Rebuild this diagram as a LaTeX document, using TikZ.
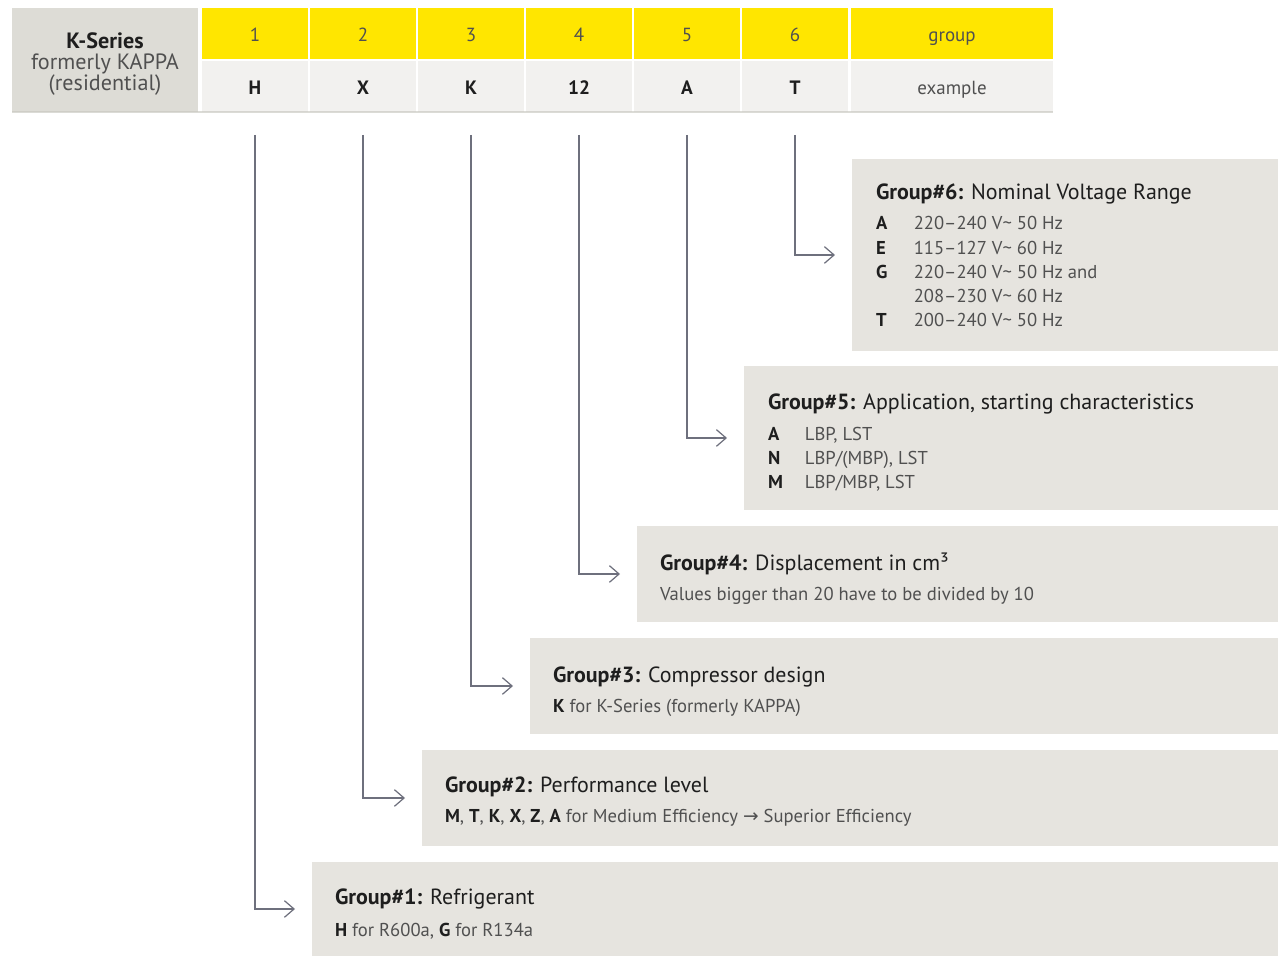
\documentclass[tikz,border=0pt]{standalone}
\usepackage{fontspec}
\setmainfont{PT Sans}
\newfontfamily\arrowfont{DejaVu Sans}
\usepackage{tikz}
\usetikzlibrary{arrows.meta, positioning, calc}
\definecolor{kyellow}{RGB}{255, 230, 0}
\definecolor{kcell}{RGB}{242, 241, 239}
\definecolor{kseries}{RGB}{221, 220, 214}
\definecolor{kbox}{RGB}{230, 228, 223}
\definecolor{krule}{RGB}{200, 199, 192}
\definecolor{kline}{RGB}{110, 112, 125}
\definecolor{kdark}{RGB}{30, 30, 30}
\definecolor{kgrey}{RGB}{80, 80, 80}
\newcommand{\kb}[1]{\textcolor{kdark}{\textbf{#1}}}
\newcommand{\volt}{V\textasciitilde\ }

\begin{document}
\begin{tikzpicture}[
    x = 0.02cm, y = -0.02cm,
    every node/.style = {inner sep=0pt, outer sep=0pt},
    cellbase/.style = {minimum width=2.12cm, minimum height=1.02cm,
                       text height=9.6pt, text depth=1pt,
                       font=\fontsize{10.8}{12}\selectfont},
    numcell/.style = {cellbase, fill=kyellow, text=kgrey},
    codecell/.style = {cellbase, fill=kcell, text=kdark,
                       font=\fontsize{11}{12}\selectfont\bfseries},
    infobox/.style = {fill=kbox, anchor=north west, minimum height=1.92cm},
    title/.style = {anchor=base west, text=kdark,
                    font=\fontsize{12.5}{14}\selectfont},
    body/.style = {anchor=base west, text=kgrey,
                   font=\fontsize{10.6}{13.8}\selectfont},
    link/.style = {draw=kline, line width=0.7pt, shorten >=0.34cm,
                   -{Straight Barb[length=5.5pt, width=9.5pt]}}
]
  % background / bounding box
  \useasboundingbox (0,0) rectangle (1278,956);

  % header table
  \node[fill=kseries, minimum width=3.72cm, minimum height=2.08cm] (series) at (105,60) {};
  \node[align=center, text=kgrey, font=\fontsize{12.6}{12.2}\selectfont] (serieslabel) at (105,64)
    {\kb{K-Series}\\formerly KAPPA\\(residential)};
  \foreach \i/\cx/\code in {1/255/H, 2/363/X, 3/471/K, 4/579/12, 5/687/A, 6/795/T} {
    \node[numcell] (num\i) at (\cx,33.5) {\i};
    \node[codecell] (code\i) at (\cx,86.5) {\code};
  }
  \node[numcell, minimum width=4.04cm] (numg) at (952,33.5) {group};
  \node[cellbase, fill=kcell, minimum width=4.04cm, text=kgrey] (codeg) at (952,86.5) {example};
  \draw[krule, line width=0.8pt] (series.south west) -- (codeg.south east);

  % group boxes
  \node[infobox, minimum width=8.52cm, minimum height=3.84cm] (g6) at (852,159) {};
  \node[infobox, minimum width=10.68cm, minimum height=2.88cm] (g5) at (744,366) {};
  \node[infobox, minimum width=12.82cm] (g4) at (637,526) {};
  \node[infobox, minimum width=14.96cm] (g3) at (530,638) {};
  \node[infobox, minimum width=17.12cm] (g2) at (422,750) {};
  \node[infobox, minimum width=19.32cm, minimum height=1.88cm] (g1) at (312,862) {};

  % group texts
  \node[title] (t6) at (876,200) {\textbf{Group\#6:} Nominal Voltage Range};
  \node[body] (b6) at (876,230) {\begin{tabular}[t]{@{}p{21.5pt}@{}l@{}}
      \kb{A} & 220--240 \volt 50 Hz\\
      \kb{E} & 115--127 \volt 60 Hz\\
      \kb{G} & 220--240 \volt 50 Hz and\\
             & 208--230 \volt 60 Hz\\
      \kb{T} & 200--240 \volt 50 Hz
    \end{tabular}};
  \node[title] (t5) at (768,409) {\textbf{Group\#5:} Application, starting characteristics};
  \node[body] (b5) at (768,440) {\begin{tabular}[t]{@{}p{21pt}@{}l@{}}
      \kb{A} & LBP, LST\\
      \kb{N} & LBP/(MBP), LST\\
      \kb{M} & LBP/MBP, LST
    \end{tabular}};
  \node[title] (t4) at (660,570) {\textbf{Group\#4:} Displacement in cm³};
  \node[body] (b4) at (660,600) {Values bigger than 20 have to be divided by 10};
  \node[title] (t3) at (553,682) {\textbf{Group\#3:} Compressor design};
  \node[body] (b3) at (553,712) {\kb{K} for K-Series (formerly KAPPA)};
  \node[title] (t2) at (445,792) {\textbf{Group\#2:} Performance level};
  \node[body] (b2) at (445,822) {\kb{M}, \kb{T}, \kb{K}, \kb{X}, \kb{Z}, \kb{A} for Medium Efficiency
    {\arrowfont →} Superior Efficiency};
  \node[title] (t1) at (335,904) {\textbf{Group\#1:} Refrigerant};
  \node[body] (b1) at (335,936) {\kb{H} for R600a, \kb{G} for R134a};

  % connectors
  \foreach \i in {1,...,6}
    \draw[link] ($(code\i.south)+(0,23)$) |- (g\i.west);
\end{tikzpicture}
\end{document}
